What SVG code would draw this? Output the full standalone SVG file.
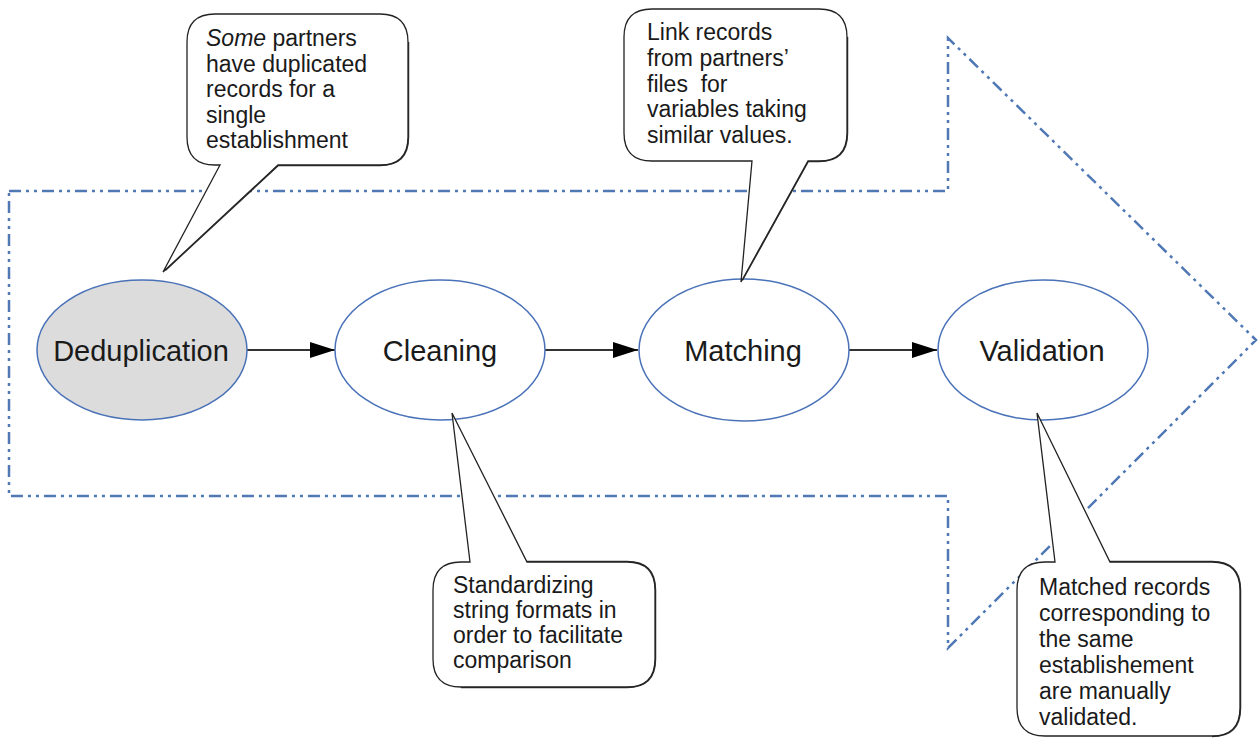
<svg xmlns="http://www.w3.org/2000/svg" width="1258" height="738" viewBox="0 0 1258 738">
<style>
.big{fill:none;stroke:#4f78b5;stroke-width:2.5;stroke-dasharray:12 5 3 5 3 5;}
.node{stroke:#4a72b8;stroke-width:1.5;fill:#ffffff;}
.lbl{font-family:"Liberation Sans",Arial,sans-serif;font-size:29px;fill:#1a1a1a;text-anchor:middle;}
.co{fill:#ffffff;stroke:#222;stroke-width:1.3;}
.cosh{fill:none;stroke:#333;stroke-width:2.5;}
.ct{font-family:"Liberation Sans",Arial,sans-serif;font-size:23px;fill:#1a1a1a;}
.conn{stroke:#333;stroke-width:2;fill:none;}
</style>
<defs>
<marker id="ah" markerUnits="userSpaceOnUse" markerWidth="26" markerHeight="16" refX="25" refY="8" orient="auto">
<path d="M0,0 L25,8 L0,16 Z" fill="#000"/>
</marker>
</defs>
<g id="bigarrow">
<path class="big" d="M9,191 H948 V38 L1256,340 L948,648 V496 H9 Z"/>
</g>
<g id="connectors">
<line class="conn" x1="247" y1="350" x2="335" y2="350" marker-end="url(#ah)"/>
<line class="conn" x1="545" y1="350" x2="638" y2="350" marker-end="url(#ah)"/>
<line class="conn" x1="849" y1="350" x2="937" y2="350" marker-end="url(#ah)"/>
</g>
<g id="n-dedup">
<ellipse class="node" cx="142" cy="350" rx="105" ry="70" style="fill:#dcdcdc"/>
<text class="lbl" x="141" y="361">Deduplication</text>
</g>
<g id="n-clean">
<ellipse class="node" cx="440" cy="350" rx="105" ry="70"/>
<text class="lbl" x="440" y="361">Cleaning</text>
</g>
<g id="n-match">
<ellipse class="node" cx="744" cy="350" rx="105" ry="71"/>
<text class="lbl" x="743" y="361">Matching</text>
</g>
<g id="n-valid">
<ellipse class="node" cx="1043" cy="350" rx="105" ry="70"/>
<text class="lbl" x="1042" y="361">Validation</text>
</g>
<g id="c-dedup">
<path class="cosh" d="M408,42 V137 Q408,165 380,165 H278 L165,270"/>
<path class="co" d="M215,14 H380 Q408,14 408,42 V137 Q408,165 380,165 H278 L163,272 L220,165 H215 Q187,165 187,137 V42 Q187,14 215,14 Z"/>
<text class="ct" x="206" y="46"><tspan font-style="italic">Some</tspan> partners</text>
<text class="ct" x="206" y="71.5">have duplicated</text>
<text class="ct" x="206" y="97">records for a</text>
<text class="ct" x="206" y="122.5">single</text>
<text class="ct" x="206" y="148">establishment</text>
</g>
<g id="c-match">
<path class="cosh" d="M847,37 V133 Q847,161 819,161 H808 L742,280"/>
<path class="co" d="M652,9 H819 Q847,9 847,37 V133 Q847,161 819,161 H808 L741,282 L752,161 H652 Q624,161 624,133 V37 Q624,9 652,9 Z"/>
<text class="ct" x="647" y="40">Link records</text>
<text class="ct" x="647" y="66">from partners’</text>
<text class="ct" x="647" y="92" xml:space="preserve">files  for</text>
<text class="ct" x="647" y="117">variables taking</text>
<text class="ct" x="647" y="143">similar values.</text>
</g>
<g id="c-clean">
<path class="cosh" d="M527,562 H627 Q655,562 655,590 V659 Q655,687 627,687 H461"/>
<path class="co" d="M461,562 H470 L452,413 L527,562 H627 Q655,562 655,590 V659 Q655,687 627,687 H461 Q433,687 433,659 V590 Q433,562 461,562 Z"/>
<text class="ct" x="453" y="593">Standardizing</text>
<text class="ct" x="453" y="618">string formats in</text>
<text class="ct" x="453" y="643">order to facilitate</text>
<text class="ct" x="453" y="668">comparison</text>
</g>
<g id="c-valid">
<path class="cosh" d="M1110,562 H1212 Q1240,562 1240,590 V708 Q1240,736 1212,736"/>
<path class="co" d="M1045,562 H1055 L1037,413 L1110,562 H1212 Q1240,562 1240,590 V708 Q1240,736 1212,736 H1045 Q1017,736 1017,708 V590 Q1017,562 1045,562 Z"/>
<text class="ct" x="1039" y="595">Matched records</text>
<text class="ct" x="1039" y="621">corresponding to</text>
<text class="ct" x="1039" y="647">the same</text>
<text class="ct" x="1039" y="673">establishement</text>
<text class="ct" x="1039" y="699">are manually</text>
<text class="ct" x="1039" y="725">validated.</text>
</g>
</svg>
